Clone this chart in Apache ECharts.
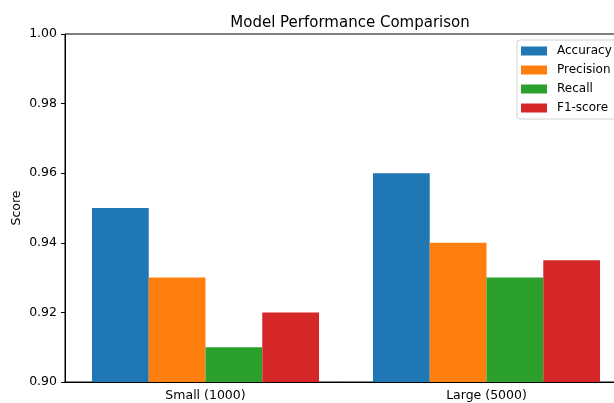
<!DOCTYPE html>
<html>
<head>
<meta charset="utf-8">
<script src="https://cdn.jsdelivr.net/npm/echarts@6/dist/echarts.min.js"></script>
<style>html,body{margin:0;padding:0;background:#fff}#c{width:614px;height:403px}</style>
</head>
<body>
<div id="c"></div>
<script>
const categories = ['Small (1000)', 'Large (5000)'];
const seriesNames = ['Accuracy', 'Precision', 'Recall', 'F1-score'];
const accuracy = [0.95, 0.96];
const precision = [0.93, 0.94];
const recall = [0.91, 0.93];
const f1score = [0.92, 0.935];
const yTicks = [0.90, 0.92, 0.94, 0.96, 0.98, 1.00];
const colors = ['#1f77b4', '#ff7f0e', '#2ca02c', '#d62728'];
const values = [accuracy, precision, recall, f1score];

const font = 'DejaVu Sans';
const chart = echarts.init(document.getElementById('c'), null, {renderer: 'canvas'});
chart.setOption({
  animation: false,
  backgroundColor: '#fff',
  title: {
    text: 'Model Performance Comparison',
    left: 345, top: 11, textAlign: 'center',
    textStyle: {fontFamily: font, fontSize: 15, fontWeight: 'normal', color: '#000'}
  },
  legend: {
    orient: 'vertical', left: 517, top: 40,
    data: seriesNames,
    itemWidth: 26, itemHeight: 9, itemGap: 5,
    padding: [4, 5, 4, 4],
    borderColor: '#d0d0d0', borderWidth: 1, borderRadius: 3,
    backgroundColor: 'rgba(255,255,255,0.8)',
    icon: 'rect',
    textStyle: {fontFamily: font, fontSize: 12, color: '#000', lineHeight: 14, padding: [0, 0, 0, 5]}
  },
  grid: {left: 65, top: 34, width: 562, height: 348, show: true, borderColor: '#000', borderWidth: 1, containLabel: false, outerBoundsMode: 'none'},
  xAxis: {
    type: 'category', data: categories,
    axisLine: {lineStyle: {color: '#000', width: 1}},
    axisTick: {alignWithLabel: true, length: 4, lineStyle: {color: '#000'}},
    axisLabel: {fontFamily: font, fontSize: 12.5, color: '#000', margin: 7}
  },
  yAxis: {
    type: 'value', min: 0.9, max: 1.0, interval: 0.02,
    name: 'Score', nameLocation: 'middle', nameRotate: 90, nameGap: 42, nameMoveOverlap: false,
    nameTextStyle: {fontFamily: font, fontSize: 12.5, color: '#000'},
    axisLine: {show: true, lineStyle: {color: '#000', width: 1}},
    axisTick: {show: true, length: 4, lineStyle: {color: '#000'}},
    splitLine: {show: false},
    axisLabel: {fontFamily: font, fontSize: 12.5, color: '#000', margin: 8,
      formatter: v => { const t = yTicks.find(x => Math.abs(x - v) < 1e-9); return (t !== undefined ? t : v).toFixed(2); }}
  },
  series: seriesNames.map((n, i) => ({
    name: n, type: 'bar', data: values[i],
    itemStyle: {color: colors[i]},
    barGap: '0%', barCategoryGap: '19.2%'
  }))
});
</script>
</body>
</html>
